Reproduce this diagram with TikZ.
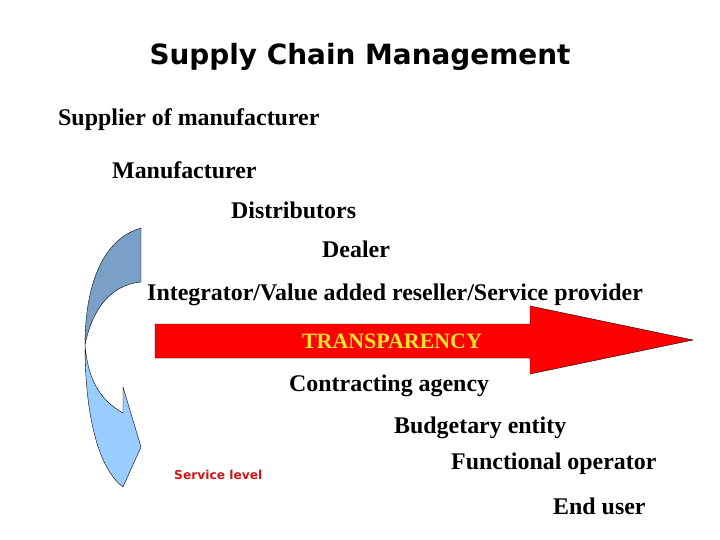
\documentclass[tikz,border=0pt]{standalone}
\usepackage{fontspec}
\setmainfont{Liberation Serif}
\newfontfamily\titlefont{DejaVu Sans}
\begin{document}
\begin{tikzpicture}[x=1bp,y=-1bp,
  lbl/.style={anchor=west,inner sep=0pt,font=\bfseries\fontsize{24}{28}\selectfont}]
\useasboundingbox (0,0) rectangle (720,540);
\node[font=\titlefont\bfseries\fontsize{28}{32}\selectfont] (title) at (360,57) {Supply Chain Management};
\node[lbl] (s) at (58,120) {Supplier of manufacturer};
\node[lbl] (m) at (112,170) {Manufacturer};
\node[lbl] (d) at (231,210) {Distributors};
\node[lbl] (de) at (322,249) {Dealer};
\node[lbl] (i) at (147,295) {Integrator/Value added reseller/Service provider};
\draw[fill=red] (155,324) -- (530,324) -- (530,306) -- (693,340) -- (530,374) -- (530,358) -- (155,358) -- cycle;
\node[font=\bfseries\fontsize{22}{24}\selectfont,text={rgb,255:red,255;green,230;blue,40}] (t) at (392,341) {TRANSPARENCY};
\node[lbl] (c) at (289,386) {Contracting agency};
\node[lbl] (b) at (394,428) {Budgetary entity};
\node[lbl] (f) at (451,464) {Functional operator};
\node[lbl] (e) at (553,506) {End user};
\node[anchor=west,inner sep=0pt,text={rgb,255:red,210;green,20;blue,20},font=\titlefont\bfseries\fontsize{12.3}{14}\selectfont] (sl) at (174,475) {Service level};
\draw[fill={rgb,255:red,122;green,160;blue,200}] (141,228) .. controls (100,240) and (85,290) .. (85,345)
  .. controls (92,310) and (110,285) .. (141,282) -- cycle;
\draw[fill={rgb,255:red,153;green,204;blue,255}] (85,345) .. controls (85,420) and (100,470) .. (123,487)
  -- (141,447) -- (123,387) -- (123,413) .. controls (100,400) and (88,380) .. (85,345) -- cycle;
\end{tikzpicture}
\end{document}
